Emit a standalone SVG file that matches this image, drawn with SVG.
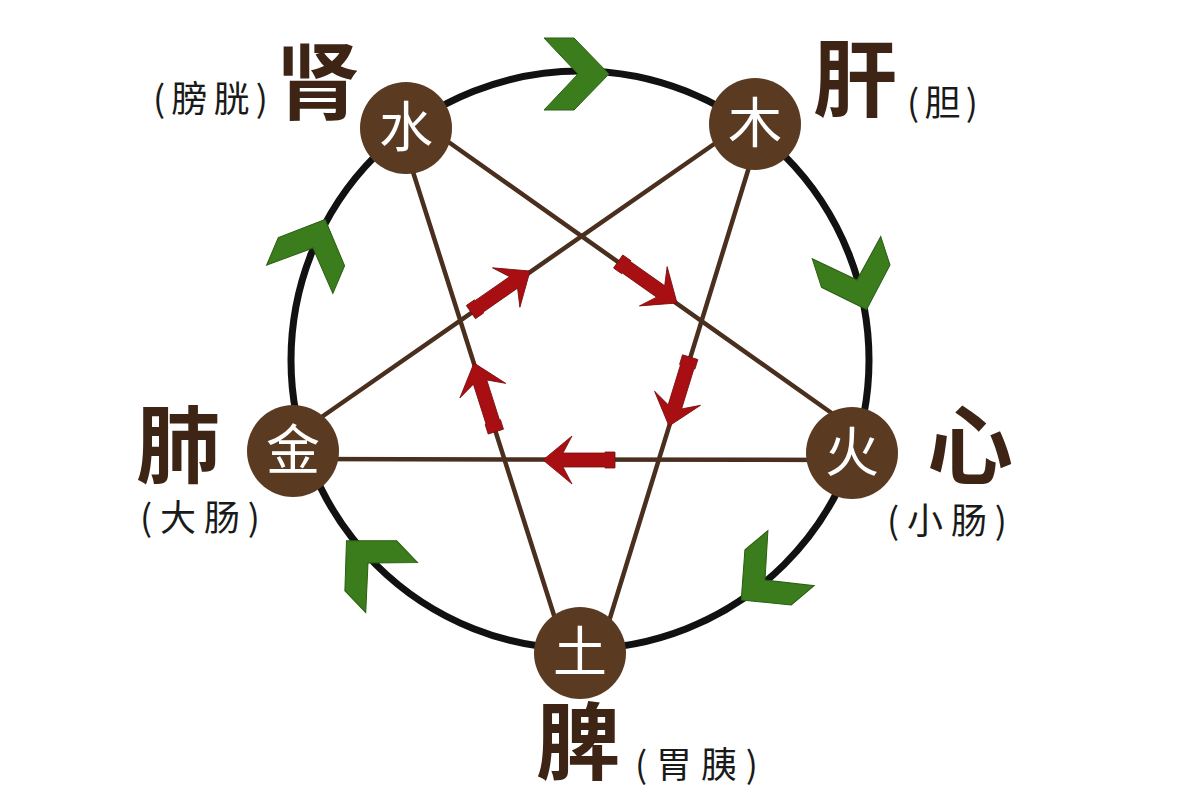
<svg xmlns="http://www.w3.org/2000/svg" width="1200" height="800" viewBox="0 0 1200 800">
  <defs>
    <style>
      .ring{fill:none;stroke:#111;stroke-width:7}
      .line{stroke:#4a2f1e;stroke-width:4.5;stroke-linecap:round;fill:none}
      .red{fill:#a80f12;stroke:#7a0a0c;stroke-width:0.8}
      .chev{fill:#3b7c1d;stroke:#2b5e12;stroke-width:1}
      .node{fill:#5b3a22}
      .ntext{font-family:"Noto Sans CJK SC","Noto Sans CJK JP",sans-serif;font-size:54px;font-weight:400;fill:#fff;text-anchor:middle}
      .big{font-family:"Noto Sans CJK SC","Noto Sans CJK JP",sans-serif;font-weight:700;fill:#3d2414;text-anchor:middle}
      .small{font-family:"Noto Sans CJK SC","Noto Sans CJK JP",sans-serif;font-size:36px;font-weight:400;fill:#1a1a1a}
    </style>
    <polygon id="chevron" class="chev" points="31,0 -4,-36 -34,-36 0,0 -34,36 -4,36"/>
    <polygon id="redarrow" class="red" points="0,0 -29,-24 -20,-7 -62,-7 -62,-8 -72,-8 -72,8 -62,8 -62,7 -20,7 -29,24"/>
  </defs>
  <rect width="1200" height="800" fill="#fff"/>

  <g id="cycle">
    <circle class="ring" cx="580" cy="360" r="289"/>
    <use href="#chevron" transform="translate(578,74) rotate(0)"/>
    <use href="#chevron" transform="translate(857,280) rotate(72)"/>
    <use href="#chevron" transform="translate(765,580) rotate(140)"/>
    <use href="#chevron" transform="translate(368,563) rotate(226)"/>
    <use href="#chevron" transform="translate(313,248) rotate(293)"/>
  </g>

  <g id="connectors">
    <line class="line" x1="407" y1="153" x2="559" y2="631"/>
    <line class="line" x1="754" y1="151" x2="606" y2="631"/>
    <line class="line" x1="730" y1="133" x2="313" y2="423"/>
    <line class="line" x1="433" y1="131" x2="847" y2="424"/>
    <line class="line" x1="300" y1="459" x2="845" y2="460"/>
    <use href="#redarrow" transform="translate(530,271) rotate(-34.8)"/>
    <use href="#redarrow" transform="translate(677,303) rotate(35.2)"/>
    <use href="#redarrow" transform="translate(669,426) rotate(107.1)"/>
    <use href="#redarrow" transform="translate(543,460) rotate(180)"/>
    <use href="#redarrow" transform="translate(474,363) rotate(-107.65)"/>
  </g>

  <g id="node-water">
    <circle class="node" cx="406" cy="128" r="46"/>
    <text class="ntext" x="406" y="147">水</text>
    <text class="big" x="318" y="113" font-size="84">肾</text>
    <text class="small" x="153" y="112" textLength="115" lengthAdjust="spacing">(膀胱)</text>
  </g>
  <g id="node-wood">
    <circle class="node" cx="755" cy="124" r="46"/>
    <text class="ntext" x="755" y="143">木</text>
    <text class="big" x="855" y="110" font-size="84">肝</text>
    <text class="small" x="907" y="116" textLength="71" lengthAdjust="spacing">(胆)</text>
  </g>
  <g id="node-fire">
    <circle class="node" cx="852" cy="453" r="46"/>
    <text class="ntext" x="852" y="472">火</text>
    <text class="big" x="970" y="478" font-size="86">心</text>
    <text class="small" x="887" y="534" textLength="120" lengthAdjust="spacing">(小肠)</text>
  </g>
  <g id="node-earth">
    <circle class="node" cx="580" cy="653" r="46"/>
    <text class="ntext" x="580" y="672">土</text>
    <text class="big" x="578" y="773" font-size="84">脾</text>
    <text class="small" x="635" y="778" textLength="123" lengthAdjust="spacing">(胃胰)</text>
  </g>
  <g id="node-metal">
    <circle class="node" cx="293" cy="451" r="46"/>
    <text class="ntext" x="293" y="470">金</text>
    <text class="big" x="178" y="476" font-size="84">肺</text>
    <text class="small" x="140" y="531" textLength="120" lengthAdjust="spacing">(大肠)</text>
  </g>
</svg>
